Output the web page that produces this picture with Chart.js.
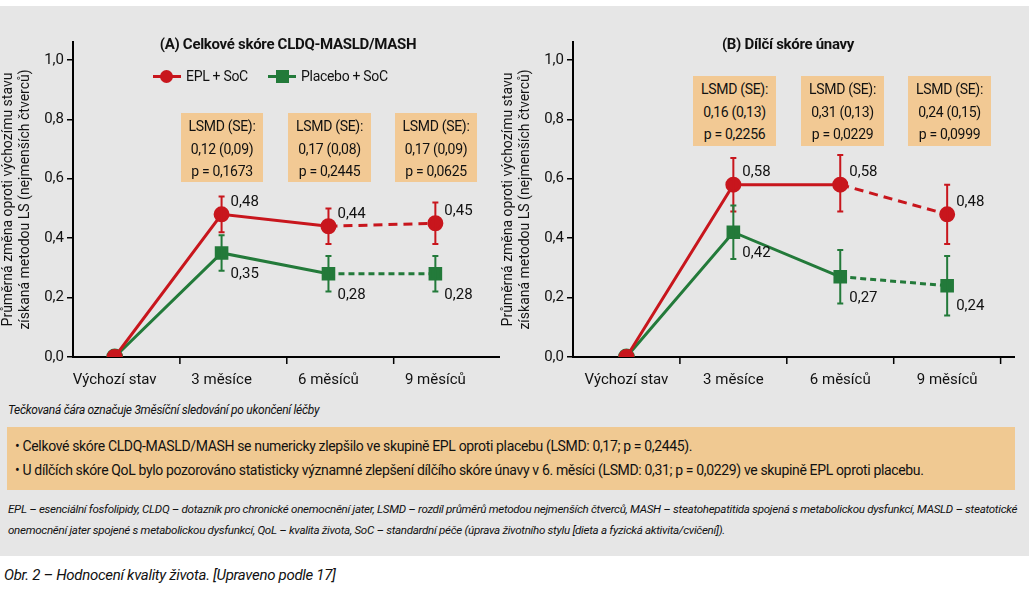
<!DOCTYPE html>
<html><head><meta charset="utf-8">
<script src="https://cdn.jsdelivr.net/npm/chart.js@4/dist/chart.umd.min.js"></script>
<style>
body{margin:0;width:1029px;height:589px;background:#fff;font-family:"Liberation Sans Narrow","Roboto",sans-serif;position:relative;overflow:hidden;color:#111}
#bg{position:absolute;left:0;top:6px;width:1029px;height:550px;background:#e6e6e6}
.abs{position:absolute}
canvas{position:absolute}
.ttl{font-weight:bold;font-size:15px;text-align:center;letter-spacing:-0.3px}
.box{background:#f2c994;font-size:14px;line-height:22.5px;text-align:center;padding-top:2px;box-sizing:border-box;white-space:nowrap;letter-spacing:-0.3px}
.leg{font-size:14px;display:flex;align-items:center;letter-spacing:-0.3px}
.ln{position:relative;width:28px;height:3px;margin-right:5px}
.mk{position:absolute;left:8px;top:-5px;width:13px;height:13px}
.note{font-style:italic;font-size:12px;letter-spacing:-0.3px}
</style></head><body>
<div id="bg"></div>
<canvas id="cA" style="left:0;top:0" width="510" height="395"></canvas>
<canvas id="cB" style="left:500px;top:0" width="525" height="395"></canvas>
<div class="abs ttl" style="left:100px;top:35px;width:376px">(A) Celkové skóre CLDQ-MASLD/MASH</div>
<div class="abs ttl" style="left:600px;top:35px;width:376px">(B) Dílčí skóre únavy</div>
<div class="abs leg" style="left:153px;top:68px"><div class="ln" style="background:#c8161d"><div class="mk" style="background:#c8161d;border-radius:50%;left:7px"></div></div>EPL + SoC</div>
<div class="abs leg" style="left:268px;top:68px"><div class="ln" style="background:#237a3a"><div class="mk" style="background:#237a3a"></div></div>Placebo + SoC</div>
<div id="boxes"></div>
<div class="abs note" style="left:8px;top:403px">Tečkovaná čára označuje 3měsíční sledování po ukončení léčby</div>
<div class="abs" style="left:7px;top:427px;width:1008px;height:63px;background:#f0c992;font-size:14px;letter-spacing:-0.35px;line-height:24px;padding:7px 0 0 8px;box-sizing:border-box;white-space:nowrap">
• Celkové skóre CLDQ-MASLD/MASH se numericky zlepšilo ve skupině EPL oproti placebu (LSMD: 0,17; p = 0,2445).<br>
• U dílčích skóre QoL bylo pozorováno statisticky významné zlepšení dílčího skóre únavy v 6. měsíci (LSMD: 0,31; p = 0,0229) ve skupině EPL oproti placebu.</div>
<div class="abs note" style="left:8px;top:499px;width:1015px;line-height:21px;font-size:11.6px">EPL – esenciální fosfolipidy, CLDQ – dotazník pro chronické onemocnění jater, LSMD – rozdíl průměrů metodou nejmenších čtverců, MASH – steatohepatitida spojená s metabolickou dysfunkcí, MASLD – steatotické onemocnění jater spojené s metabolickou dysfunkcí, QoL – kvalita života, SoC – standardní péče (úprava životního stylu [dieta a fyzická aktivita/cvičení]).</div>
<div class="abs" style="left:4px;top:566px;font-size:15px;font-style:italic;letter-spacing:-0.3px">Obr. 2 – Hodnocení kvality života. [Upraveno podle 17]</div>
<script>
const categories = ['Výchozí stav', '3 měsíce', '6 měsíců', '9 měsíců'];
const yTicks = [0, 0.2, 0.4, 0.6, 0.8, 1.0];

const epl_A = [0, 0.48, 0.44, 0.45];
const eplLo_A = [null, 0.42, 0.38, 0.38];
const eplHi_A = [null, 0.54, 0.50, 0.52];
const pla_A = [0, 0.35, 0.28, 0.28];
const plaLo_A = [null, 0.29, 0.22, 0.22];
const plaHi_A = [null, 0.41, 0.34, 0.34];
const lsmd_A = [['0,12 (0,09)', 'p = 0,1673'], ['0,17 (0,08)', 'p = 0,2445'], ['0,17 (0,09)', 'p = 0,0625']];

const epl_B = [0, 0.58, 0.58, 0.48];
const eplLo_B = [null, 0.49, 0.49, 0.38];
const eplHi_B = [null, 0.67, 0.68, 0.58];
const pla_B = [0, 0.42, 0.27, 0.24];
const plaLo_B = [null, 0.33, 0.18, 0.14];
const plaHi_B = [null, 0.51, 0.36, 0.34];
const lsmd_B = [['0,16 (0,13)', 'p = 0,2256'], ['0,31 (0,13)', 'p = 0,0229'], ['0,24 (0,15)', 'p = 0,0999']];

const RED = '#c8161d', GREEN = '#237a3a';
const FONT = '"Liberation Sans Narrow", Roboto, sans-serif';
const fmt = (v) => v.toFixed(2).replace('.', ',');

// LSMD boxes (positions only, text from arrays)
const boxPos = [[181, 113, 82, 69], [288, 113, 83, 69], [395, 113, 82, 69], [693, 76, 83, 70], [801, 76, 83, 70], [908, 76, 83, 70]];
lsmd_A.concat(lsmd_B).forEach((t, i) => {
    const [x, y, w, h] = boxPos[i];
    const d = document.createElement('div');
    d.className = 'abs box';
    d.style.cssText = `left:${x}px;top:${y}px;width:${w}px;height:${h}px`;
    d.innerHTML = 'LSMD (SE):<br>' + t[0] + '<br>' + t[1];
    document.getElementById('boxes').appendChild(d);
});

const extras = {
    id: 'extras',
    afterDatasetsDraw(chart, args, opts) {
        const { ctx, scales } = chart;
        const x = scales.x, y = scales.y;
        ctx.save();
        // x tick marks
        ctx.strokeStyle = '#000';
        ctx.lineWidth = 1.5;
        opts.sep.forEach((v) => {
            const px = x.getPixelForValue(v);
            ctx.beginPath();
            ctx.moveTo(px, y.bottom);
            ctx.lineTo(px, y.bottom + 7);
            ctx.stroke();
        });
        chart.data.datasets.forEach((ds, di) => {
            const lo = opts.lo[di], hi = opts.hi[di];
            ctx.strokeStyle = ds.borderColor;
            ctx.lineWidth = 2;
            ds.data.forEach((p, i) => {
                if (lo[i] === null) return;
                const px = x.getPixelForValue(p.x);
                const y1 = y.getPixelForValue(lo[i]), y2 = y.getPixelForValue(hi[i]);
                ctx.beginPath();
                ctx.moveTo(px, y1); ctx.lineTo(px, y2);
                ctx.moveTo(px - 3, y1); ctx.lineTo(px + 3, y1);
                ctx.moveTo(px - 3, y2); ctx.lineTo(px + 3, y2);
                ctx.stroke();
            });
            ctx.fillStyle = '#111';
            ctx.font = '15px ' + FONT;
            ctx.textBaseline = 'middle';
            ds.data.forEach((p, i) => {
                if (i === 0) return;
                const px = x.getPixelForValue(p.x), py = y.getPixelForValue(p.y);
                ctx.fillText(fmt(p.y), px + 9, py + (di === 0 ? -12 : 21));
            });
        });
        ctx.restore();
    },
};

function makeChart(id, epl, eplLo, eplHi, pla, plaLo, plaHi, xmin, xmax, sep) {
    const toPts = (arr) => arr.map((v, i) => ({ x: i, y: v }));
    // eslint-disable-next-line no-undef
    return new Chart(document.getElementById(id), {
        type: 'line',
        data: {
            datasets: [
                {
                    data: toPts(epl), borderColor: RED, backgroundColor: RED, borderWidth: 3,
                    pointRadius: 6.5, pointStyle: 'circle', tension: 0,
                    segment: { borderDash: (c) => (c.p0DataIndex >= 2 ? [9, 6] : undefined) },
                },
                {
                    data: toPts(pla), borderColor: GREEN, backgroundColor: GREEN, borderWidth: 3,
                    pointRadius: [7, 7.5, 7.5, 7.5], pointStyle: ['circle', 'rect', 'rect', 'rect'], tension: 0,
                    segment: { borderDash: (c) => (c.p0DataIndex >= 2 ? [6, 4] : undefined) },
                },
            ],
        },
        options: {
            responsive: false,
            animation: false,
            layout: { padding: { top: 42, right: 510 - 501, bottom: 0, left: 0 } },
            scales: {
                x: {
                    type: 'linear', min: xmin, max: xmax,
                    afterBuildTicks: (s) => { s.ticks = categories.map((c, i) => ({ value: i })); },
                    afterFit: (s) => { s.height = 38; },
                    grid: { display: false },
                    border: { display: true, color: '#000', width: 2 },
                    ticks: { color: '#111', font: { family: FONT, size: 15 }, padding: 6, maxRotation: 0, callback: (v) => categories[v] },
                },
                y: {
                    min: 0, max: 1.06,
                    afterBuildTicks: (s) => { s.ticks = yTicks.map((v) => ({ value: v })); },
                    afterFit: (s) => { s.width = 73; },
                    grid: { drawOnChartArea: false, color: '#000', tickLength: 6, lineWidth: 1.5 },
                    border: { display: true, color: '#000', width: 2 },
                    ticks: { color: '#111', font: { family: FONT, size: 15 }, padding: 3, callback: (v) => v.toFixed(1).replace('.', ',') },
                    title: {
                        display: true,
                        text: ['Průměrná změna oproti výchozímu stavu', 'získaná metodou LS (nejmenších čtverců)'],
                        color: '#111', font: { family: FONT, size: 14 }, padding: 0,
                    },
                },
            },
            plugins: {
                legend: { display: false },
                tooltip: { enabled: false },
                extras: { lo: [eplLo, plaLo], hi: [eplHi, plaHi], sep },
            },
        },
        plugins: [extras],
    });
}

makeChart('cA', epl_A, eplLo_A, eplHi_A, pla_A, plaLo_A, plaHi_A, -0.39, 3.6, [0.61, 1.61, 2.61]);
makeChart('cB', epl_B, eplLo_B, eplHi_B, pla_B, plaLo_B, plaHi_B, -0.5, 3.63, [0.5, 1.5, 2.5, 3.5]);
</script>
</body></html>
